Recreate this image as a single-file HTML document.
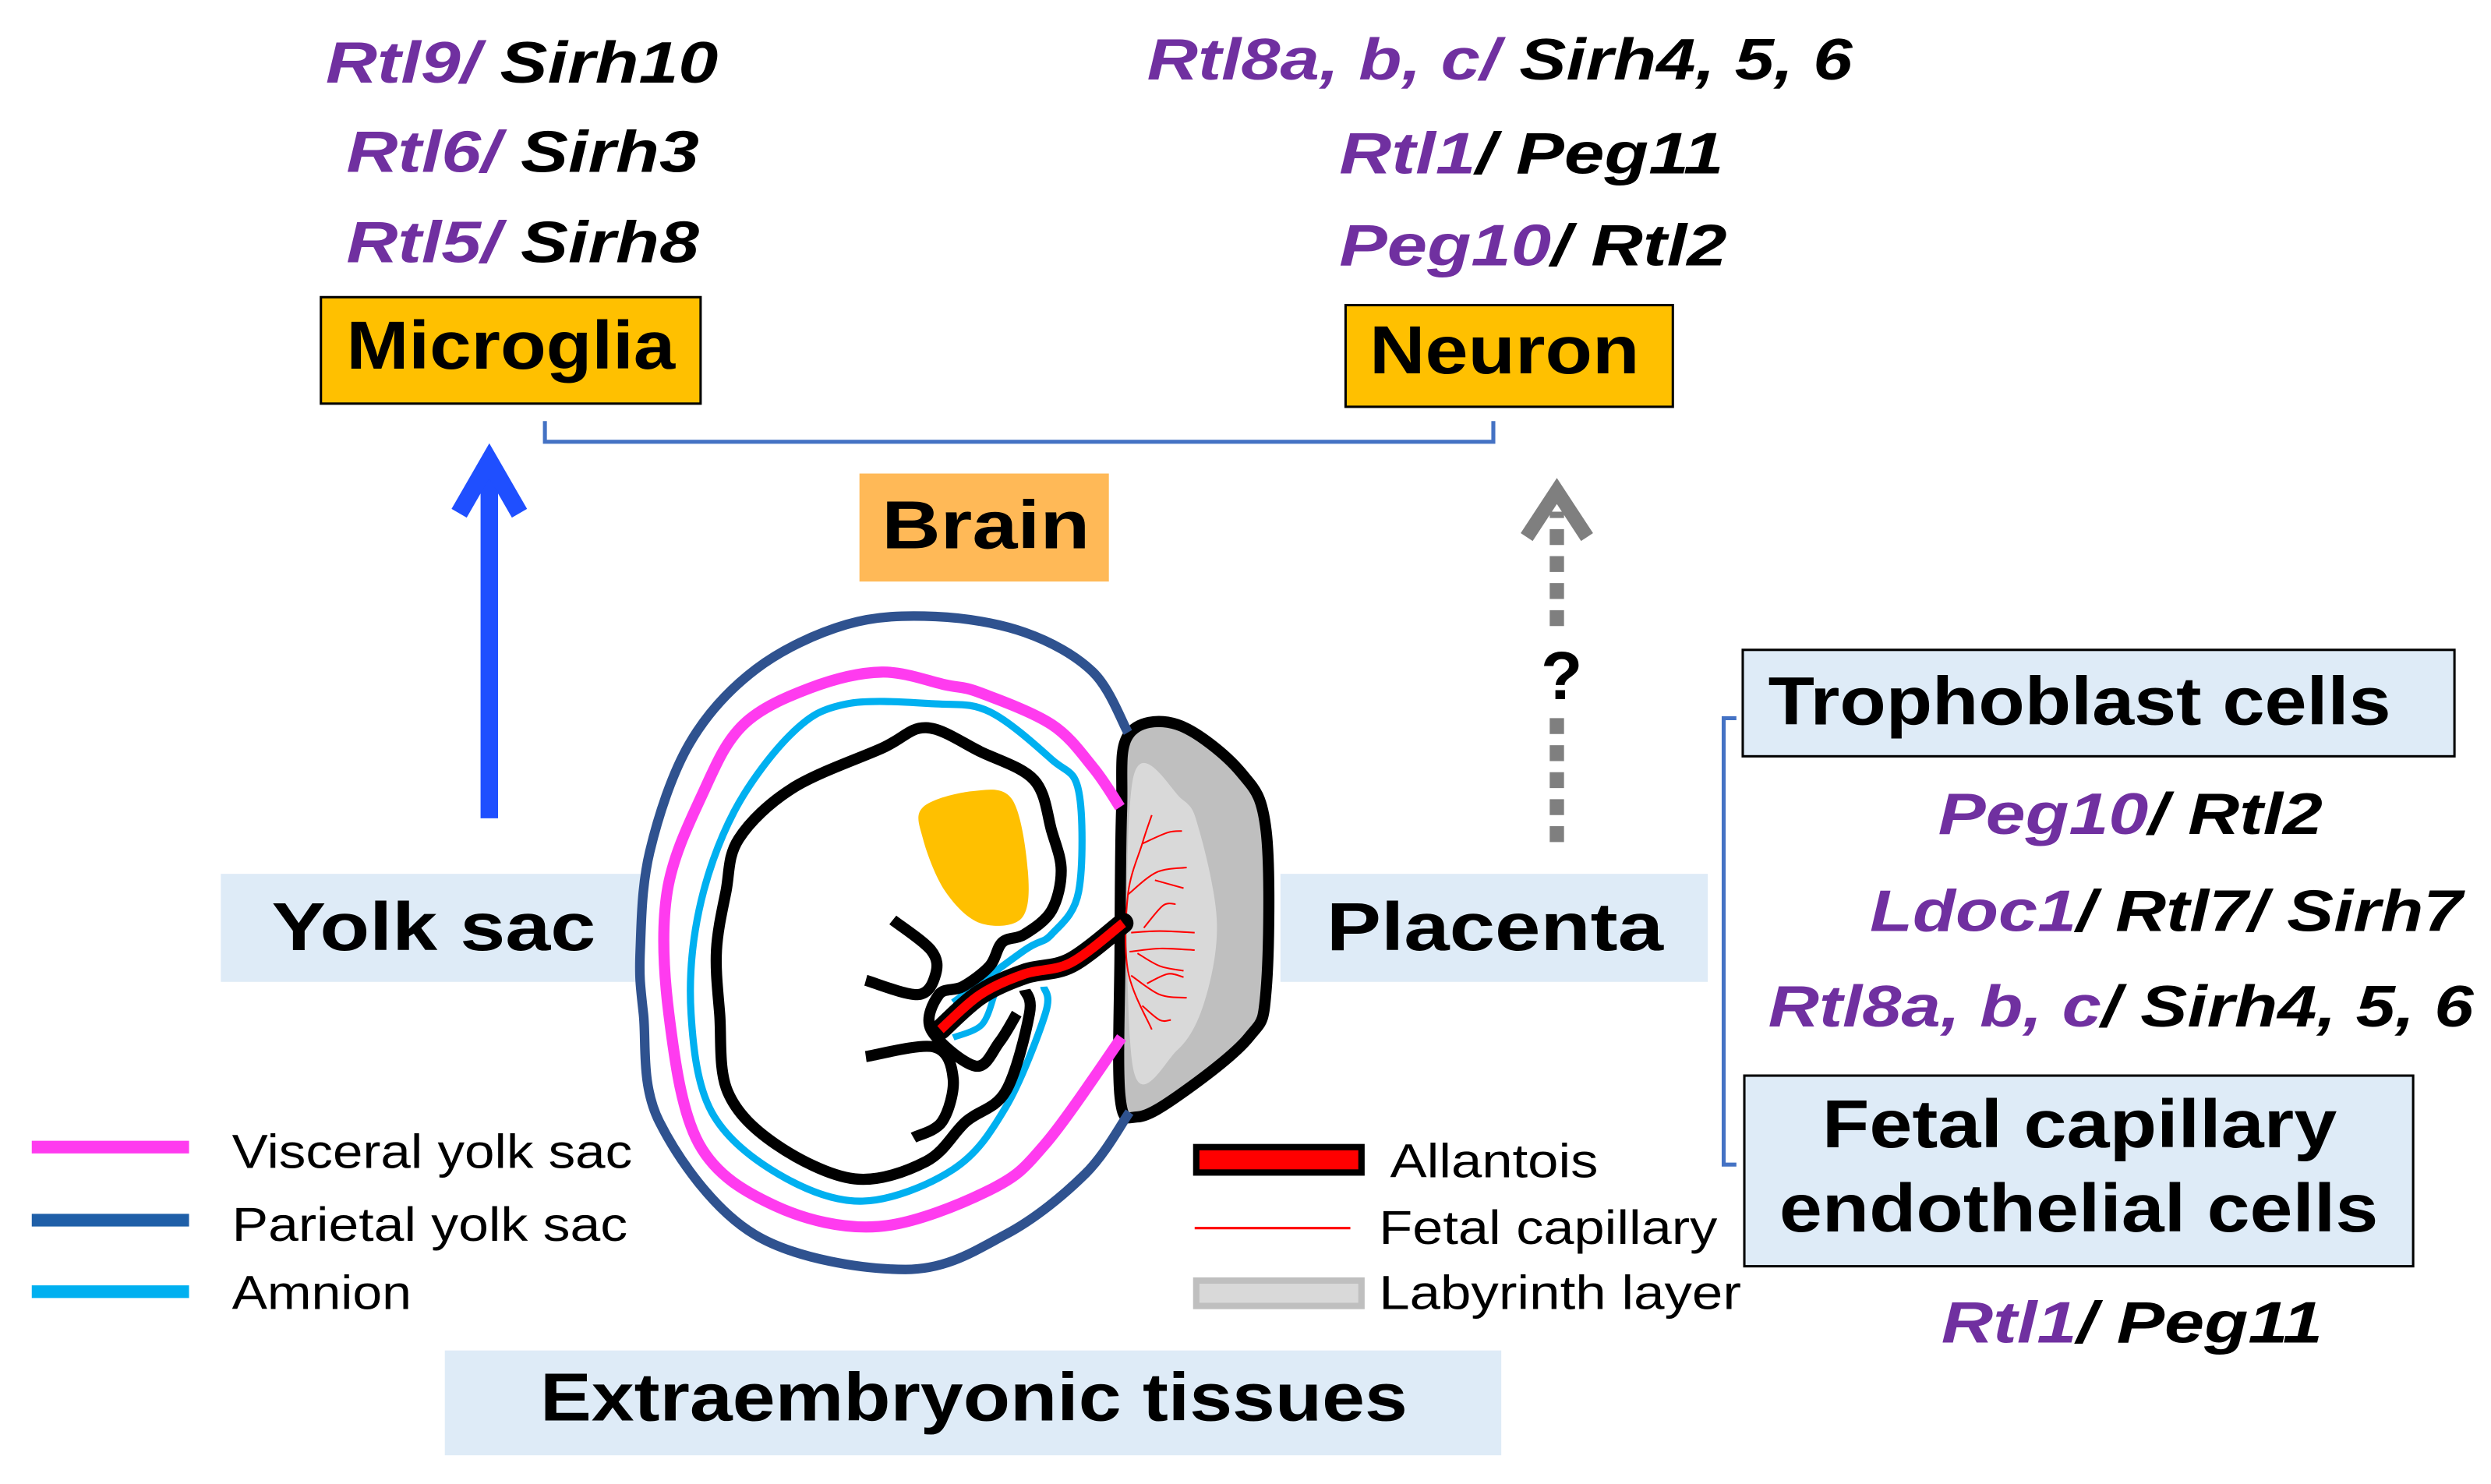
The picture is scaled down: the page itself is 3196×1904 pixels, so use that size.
<!DOCTYPE html>
<html><head><meta charset="utf-8"><style>
html,body{margin:0;padding:0;background:#fff;}
svg{display:block;}
.g{font-family:"Liberation Sans",sans-serif;font-weight:bold;font-style:italic;font-size:37px;}
.p{fill:#7030A0;}
.b{font-family:"Liberation Sans",sans-serif;font-weight:bold;font-size:43px;fill:#000;}
.l{font-family:"Liberation Sans",sans-serif;font-size:30px;fill:#000;}
</style></head><body>
<svg id="s" width="3196" height="1904" viewBox="0 0 1568 934" xmlns="http://www.w3.org/2000/svg">
<rect width="1568" height="934" fill="#fff"/>
<text class="g" x="205" y="52" textLength="247" lengthAdjust="spacingAndGlyphs"><tspan class="p">Rtl9/</tspan> Sirh10</text>
<text class="g" x="218" y="108" textLength="222" lengthAdjust="spacingAndGlyphs"><tspan class="p">Rtl6/</tspan> Sirh3</text>
<text class="g" x="218" y="165" textLength="222" lengthAdjust="spacingAndGlyphs"><tspan class="p">Rtl5/</tspan> Sirh8</text>
<text class="g" x="722" y="50" textLength="444" lengthAdjust="spacingAndGlyphs"><tspan class="p">Rtl8a, b, c/</tspan> Sirh4, 5, 6</text>
<text class="g" x="843" y="109" textLength="242" lengthAdjust="spacingAndGlyphs"><tspan class="p">Rtl1</tspan>/ Peg11</text>
<text class="g" x="843" y="167" textLength="244" lengthAdjust="spacingAndGlyphs"><tspan class="p">Peg10</tspan>/ Rtl2</text>
<rect x="202" y="187" width="239" height="67" fill="#FFC000" stroke="#000" stroke-width="1.5"/>
<text class="b" x="218" y="232" textLength="207" lengthAdjust="spacingAndGlyphs">Microglia</text>
<rect x="847" y="192" width="206" height="64" fill="#FFC000" stroke="#000" stroke-width="1.5"/>
<text class="b" x="862" y="235" textLength="170" lengthAdjust="spacingAndGlyphs">Neuron</text>
<path d="M343,265 V278 H940 V265" fill="none" stroke="#4472C4" stroke-width="2.5"/>
<rect x="541" y="298" width="157" height="68" fill="#FFB957"/>
<text class="b" x="555" y="345" textLength="131" lengthAdjust="spacingAndGlyphs" font-size="45">Brain</text>
<line x1="308" y1="515" x2="308" y2="300" stroke="#1F4FFF" stroke-width="11"/>
<polyline points="289,323 308,290 327,323" fill="none" stroke="#1F4FFF" stroke-width="11"/>
<line x1="980" y1="530" x2="980" y2="322" stroke="#7F7F7F" stroke-width="9" stroke-dasharray="10,7"/>
<polyline points="961,338 980,309 999,338" fill="none" stroke="#7F7F7F" stroke-width="9"/>
<rect x="966" y="398" width="30" height="48" fill="#fff"/>
<text class="b" x="983" y="440" text-anchor="middle" font-size="40">?</text>
<rect x="139" y="550" width="265" height="68" fill="#DEEBF7"/>
<text class="b" x="171" y="598" textLength="204" lengthAdjust="spacingAndGlyphs" font-size="46">Yolk sac</text>
<rect x="806" y="550" width="269" height="68" fill="#DEEBF7"/>
<text class="b" x="835" y="598" textLength="212" lengthAdjust="spacingAndGlyphs" font-size="46">Placenta</text>
<rect x="1097" y="409" width="448" height="67" fill="#DEEBF7" stroke="#000" stroke-width="1.5"/>
<text class="b" x="1113" y="456" textLength="392" lengthAdjust="spacingAndGlyphs">Trophoblast cells</text>
<path d="M1093,452 H1085 V733 H1093" fill="none" stroke="#4472C4" stroke-width="2.5"/>
<text class="g" x="1220" y="525" textLength="242" lengthAdjust="spacingAndGlyphs"><tspan class="p">Peg10</tspan>/ Rtl2</text>
<text class="g" x="1177" y="586" textLength="373" lengthAdjust="spacingAndGlyphs"><tspan class="p">Ldoc1</tspan>/ Rtl7/ Sirh7</text>
<text class="g" x="1113" y="646" textLength="444" lengthAdjust="spacingAndGlyphs"><tspan class="p">Rtl8a, b, c</tspan>/ Sirh4, 5, 6</text>
<rect x="1098" y="677" width="421" height="120" fill="#DEEBF7" stroke="#000" stroke-width="1.5"/>
<text class="b" x="1147" y="722" textLength="324" lengthAdjust="spacingAndGlyphs">Fetal capillary</text>
<text class="b" x="1120" y="775" textLength="377" lengthAdjust="spacingAndGlyphs">endothelial cells</text>
<text class="g" x="1222" y="845" textLength="240" lengthAdjust="spacingAndGlyphs"><tspan class="p">Rtl1</tspan>/ Peg11</text>
<line x1="20" y1="722" x2="119" y2="722" stroke="#FF3BEF" stroke-width="8"/>
<line x1="20" y1="768" x2="119" y2="768" stroke="#1F5FA8" stroke-width="8"/>
<line x1="20" y1="813" x2="119" y2="813" stroke="#00B0F0" stroke-width="8"/>
<text class="l" x="146" y="735" textLength="252" lengthAdjust="spacingAndGlyphs">Visceral yolk sac</text>
<text class="l" x="146" y="781" textLength="249" lengthAdjust="spacingAndGlyphs">Parietal yolk sac</text>
<text class="l" x="146" y="824" textLength="113" lengthAdjust="spacingAndGlyphs">Amnion</text>
<rect x="753" y="722" width="104" height="16" fill="#FF0000" stroke="#000" stroke-width="4"/>
<line x1="752" y1="773" x2="850" y2="773" stroke="#FF0000" stroke-width="1.5"/>
<rect x="753" y="806" width="104" height="16" fill="#D9D9D9" stroke="#BFBFBF" stroke-width="4"/>
<text class="l" x="875" y="741" textLength="131" lengthAdjust="spacingAndGlyphs">Allantois</text>
<text class="l" x="868" y="783" textLength="213" lengthAdjust="spacingAndGlyphs">Fetal capillary</text>
<text class="l" x="868" y="824" textLength="228" lengthAdjust="spacingAndGlyphs">Labyrinth layer</text>
<rect x="280" y="850" width="665" height="66" fill="#DEEBF7"/>
<text class="b" x="340" y="894" textLength="546" lengthAdjust="spacingAndGlyphs">Extraembryonic tissues</text>

<polygon class="sm" points="710,463 741,456 781,486 797,523 797,623 786,653 744,688 716,703 705,690 705,600 706,510" fill="#BFBFBF" stroke="#000" stroke-width="7" stroke-linejoin="round"/>
<polygon class="sm" points="713,491 744,503 755,523 766,581 758,631 741,661 713,671" fill="#D9D9D9"/>
<g stroke="#FF0000" stroke-width="1" fill="none">
<polyline class="sm" points="725,513 719,531 710,563 710,611 725,648"/>
<polyline class="sm" points="719,531 735,524 744,523"/>
<polyline class="sm" points="710,563 728,549 747,546"/>
<polyline class="sm" points="727,554 745,559"/>
<polyline class="sm" points="712,587 730,586 752,587"/>
<polyline class="sm" points="720,584 732,570 740,569"/>
<polyline class="sm" points="711,599 730,597 752,598"/>
<polyline class="sm" points="716,600 730,608 745,611"/>
<polyline class="sm" points="722,619 735,613 745,615"/>
<polyline class="sm" points="712,614 730,626 747,628"/>
<polyline class="sm" points="719,633 730,642 737,642"/>
</g>
<g fill="none" stroke-linejoin="round">
<polyline class="sm" points="710,461 688,423 645,398 589,388 533,393 476,421 434,468 409,536 403,598 405,638 415,706 475,777 570,799 633,777 683,739 711,700" stroke="#2F528F" stroke-width="6"/>
<polyline class="sm" points="705,508 688,483 662,456 617,436 595,431 555,423 510,433 468,456 443,498 420,561 421,638 440,720 488,759 553,772 623,749 658,720 706,653" stroke="#FF3BEF" stroke-width="7"/>
<polyline class="sm" points="600,631 645,598 662,588 679,561 679,498 662,478 623,448 589,443 533,443 499,461 462,511 440,573 435,638 448,700 490,739 543,756 600,736 633,697 658,638 657,621" stroke="#00B0F0" stroke-width="4.5"/>
<polyline class="sm" points="600,653 618,645 626,626" stroke="#00B0F0" stroke-width="4"/>
<polyline class="sm" points="645,623 648,638 633,687 608,706 583,731 538,742 488,720 458,687 453,638 451,598 457,561 465,528 499,496 555,471 583,458 617,473 651,491 662,523 668,548 662,573 645,588 631,593 623,608 606,621 591,626 586,648 614,671 629,656 640,638" stroke="#000" stroke-width="7"/>
<polyline class="sm" points="562,579 586,598 589,613 578,626 545,617" stroke="#000" stroke-width="7"/>
<polyline class="sm" points="545,665 588,659 600,679 593,706 575,716" stroke="#000" stroke-width="7"/>
</g>
<polygon class="sm" points="581,508 612,498 637,503 647,548 643,578 617,581 595,561 581,528" fill="#FFC000"/>
<polyline class="sm" points="592,648 617,626 645,613 674,606 707,581" fill="none" stroke="#000" stroke-width="13" stroke-linecap="round"/>
<polyline class="sm" points="592,648 617,626 645,613 674,606 707,581" fill="none" stroke="#FF0000" stroke-width="6"/>
</svg>
<script>
(function(){
var ns="http://www.w3.org/2000/svg";
document.querySelectorAll(".sm").forEach(function(el){
 var raw=el.getAttribute("points").trim().split(/\s+/).map(function(s){var a=s.split(",");return[+a[0],+a[1]];});
 var closed=el.tagName.toLowerCase()==="polygon";
 var n=raw.length,d="M"+raw[0][0]+","+raw[0][1];
 var P=function(i){ if(closed) return raw[(i+n)%n]; return raw[Math.max(0,Math.min(n-1,i))];};
 var last=closed?n:n-1;
 for(var i=0;i<last;i++){
  var p0=P(i-1),p1=P(i),p2=P(i+1),p3=P(i+2);
  var c1=[p1[0]+(p2[0]-p0[0])/6,p1[1]+(p2[1]-p0[1])/6];
  var c2=[p2[0]-(p3[0]-p1[0])/6,p2[1]-(p3[1]-p1[1])/6];
  d+=" C"+c1[0].toFixed(1)+","+c1[1].toFixed(1)+" "+c2[0].toFixed(1)+","+c2[1].toFixed(1)+" "+p2[0]+","+p2[1];
 }
 if(closed)d+="Z";
 var p=document.createElementNS(ns,"path");
 for(var k=0;k<el.attributes.length;k++){var at=el.attributes[k];if(at.name!=="points"&&at.name!=="class")p.setAttribute(at.name,at.value);}
 p.setAttribute("d",d);
 el.parentNode.replaceChild(p,el);
});
})();
</script>
</body></html>
